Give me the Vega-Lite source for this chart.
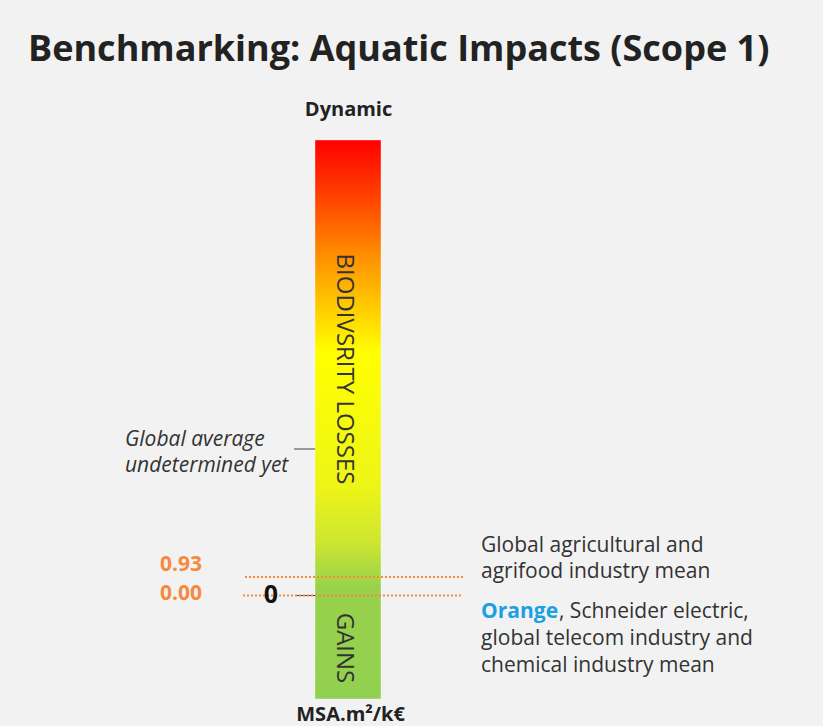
{
  "$schema": "https://vega.github.io/schema/vega-lite/v6.json",
  "width": 823,
  "height": 636,
  "autosize": {"type": "none"},
  "padding": {"left": 0, "top": 90, "right": 0, "bottom": 0},
  "background": "#f2f2f2",
  "config": {"view": {"stroke": null}},
  "title": {
    "text": "Benchmarking: Aquatic Impacts (Scope 1)",
    "anchor": "start",
    "font": "Open Sans",
    "fontSize": 36,
    "fontWeight": "bold",
    "color": "#222222",
    "baseline": "alphabetic",
    "offset": 28,
    "dx": 28,
    "dy": 35
  },
  "layer": [
    {
      "data": {"values": [{"item": "scale bar", "left": 38.275, "right": 46.294, "top": 22.775, "bottom": -5.175}]},
      "mark": {
        "type": "rect",
        "fill": {
          "gradient": "linear",
          "x1": 0, "y1": 0, "x2": 0, "y2": 1,
          "stops": [
            {"offset": 0, "color": "#ff0000"},
            {"offset": 0.1, "color": "#ff4000"},
            {"offset": 0.2, "color": "#ff8a00"},
            {"offset": 0.3, "color": "#ffcc00"},
            {"offset": 0.38, "color": "#ffff00"},
            {"offset": 0.62, "color": "#eef516"},
            {"offset": 0.72, "color": "#cde630"},
            {"offset": 0.8, "color": "#98d24c"},
            {"offset": 1, "color": "#92d050"}
          ]
        },
        "stroke": "#ffffff",
        "strokeOpacity": 0.35,
        "strokeWidth": 1
      },
      "encoding": {
        "x": {"field": "left", "type": "quantitative", "scale": {"domain": [0, 100], "nice": false, "zero": false}, "axis": null},
        "x2": {"field": "right"},
        "y": {"field": "top", "type": "quantitative", "scale": {"domain": [-6.525, 25.275], "nice": false, "zero": false}, "axis": null},
        "y2": {"field": "bottom"}
      }
    },
    {
      "data": {"values": [
        {"item": "global average connector", "from": 35.72, "to": 38.275, "level": 7.325},
        {"item": "zero connector", "from": 35.84, "to": 38.275, "level": 0}
      ]},
      "mark": {"type": "rule", "color": "#404040", "strokeWidth": 1},
      "encoding": {
        "x": {"field": "from", "type": "quantitative"},
        "x2": {"field": "to"},
        "y": {"field": "level", "type": "quantitative"}
      }
    },
    {
      "data": {"values": [
        {"item": "agrifood mean", "from": 29.77, "to": 56.26, "level": 0.93},
        {"item": "telecom mean", "from": 29.53, "to": 56.01, "level": 0}
      ]},
      "mark": {"type": "rule", "color": "#f58a3c", "strokeWidth": 2, "strokeDash": [2, 2]},
      "encoding": {
        "x": {"field": "from", "type": "quantitative"},
        "x2": {"field": "to"},
        "y": {"field": "level", "type": "quantitative"}
      }
    },
    {
      "data": {"values": [
        {"label": "Dynamic", "px": 42.35, "py": 24.0},
        {"label": "MSA.m²/k€", "px": 42.6, "py": -6.26}
      ]},
      "mark": {"type": "text", "font": "Open Sans", "fontSize": 20, "fontWeight": "bold", "color": "#222222", "align": "center", "baseline": "alphabetic"},
      "encoding": {
        "x": {"field": "px", "type": "quantitative"},
        "y": {"field": "py", "type": "quantitative"},
        "text": {"field": "label"}
      }
    },
    {
      "data": {"values": [
        {"label": "BIODIVSRITY LOSSES", "px": 40.95, "py": 11.325},
        {"label": "GAINS", "px": 40.95, "py": -2.625}
      ]},
      "mark": {"type": "text", "font": "Open Sans", "fontSize": 24, "color": "#333333", "align": "center", "baseline": "alphabetic", "angle": 90},
      "encoding": {
        "x": {"field": "px", "type": "quantitative"},
        "y": {"field": "py", "type": "quantitative"},
        "text": {"field": "label"}
      }
    },
    {
      "data": {"values": [
        {"label": "Global average", "px": 15.19, "py": 7.49},
        {"label": "undetermined yet", "px": 15.19, "py": 6.16}
      ]},
      "mark": {"type": "text", "font": "Open Sans", "fontSize": 21, "fontStyle": "italic", "color": "#333333", "align": "left", "baseline": "alphabetic"},
      "encoding": {
        "x": {"field": "px", "type": "quantitative"},
        "y": {"field": "py", "type": "quantitative"},
        "text": {"field": "label"}
      }
    },
    {
      "data": {"values": [
        {"label": "0.93", "px": 19.44, "py": 1.24},
        {"label": "0.00", "px": 19.44, "py": -0.225}
      ]},
      "mark": {"type": "text", "font": "Open Sans", "fontSize": 21, "fontWeight": "bold", "color": "#f58a3c", "align": "left", "baseline": "alphabetic"},
      "encoding": {
        "x": {"field": "px", "type": "quantitative"},
        "y": {"field": "py", "type": "quantitative"},
        "text": {"field": "label"}
      }
    },
    {
      "data": {"values": [{"label": "0", "px": 32.93, "py": -0.375}]},
      "mark": {"type": "text", "font": "Open Sans", "fontSize": 25, "fontWeight": "bold", "color": "#111111", "align": "center", "baseline": "alphabetic"},
      "encoding": {
        "x": {"field": "px", "type": "quantitative"},
        "y": {"field": "py", "type": "quantitative"},
        "text": {"field": "label"}
      }
    },
    {
      "data": {"values": [
        {"label": "Global agricultural and", "px": 58.45, "py": 2.19},
        {"label": "agrifood industry mean", "px": 58.45, "py": 0.86},
        {"label": ", Schneider electric,", "px": 67.92, "py": -1.14},
        {"label": "global telecom industry and", "px": 58.45, "py": -2.475},
        {"label": "chemical industry mean", "px": 58.45, "py": -3.81}
      ]},
      "mark": {"type": "text", "font": "Open Sans", "fontSize": 21, "color": "#333333", "align": "left", "baseline": "alphabetic"},
      "encoding": {
        "x": {"field": "px", "type": "quantitative"},
        "y": {"field": "py", "type": "quantitative"},
        "text": {"field": "label"}
      }
    },
    {
      "data": {"values": [{"label": "Orange", "px": 58.45, "py": -1.14}]},
      "mark": {"type": "text", "font": "Open Sans", "fontSize": 21, "fontWeight": "bold", "color": "#1ba1e2", "align": "left", "baseline": "alphabetic"},
      "encoding": {
        "x": {"field": "px", "type": "quantitative"},
        "y": {"field": "py", "type": "quantitative"},
        "text": {"field": "label"}
      }
    }
  ]
}
